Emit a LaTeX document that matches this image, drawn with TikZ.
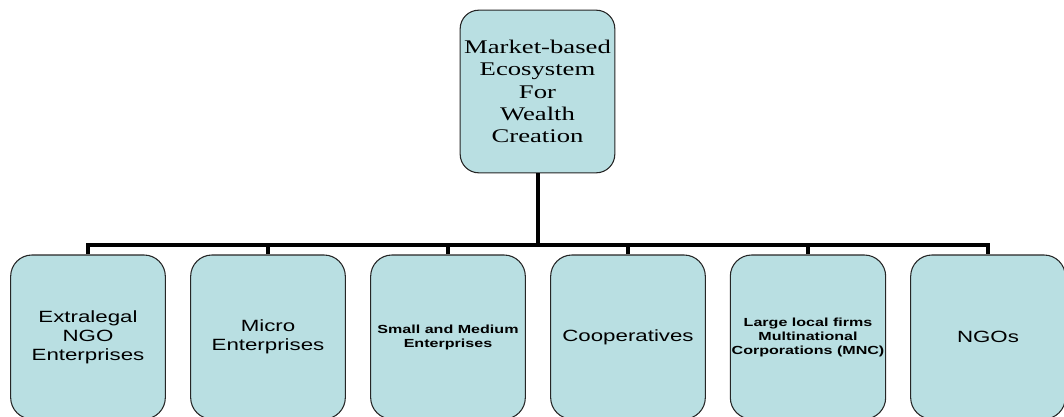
\documentclass[tikz,border=0pt]{standalone}
\usepackage{fontspec}
\newfontfamily\boxserif[FakeStretch=1.38]{Liberation Serif}
\newfontfamily\boxsans[FakeStretch=1.37]{Liberation Sans}
\usetikzlibrary{positioning}
\definecolor{boxfill}{RGB}{185,223,226}
\tikzset{
  orgbox/.style={draw=black!85, line width=0.8pt, fill=boxfill, rounded corners=16pt,
    minimum width=116pt, minimum height=123pt, inner sep=1pt, align=center},
  topbox/.style={orgbox, rounded corners=14pt, minimum height=122pt,
    font=\boxserif\fontsize{14.5}{16.8}\selectfont},
  unitbox/.style={orgbox, font=\boxsans\fontsize{12.2}{14.3}\selectfont},
  smallbold/.style={font=\boxsans\bfseries\fontsize{8.8}{10.5}\selectfont},
  tie/.style={line width=3pt}
}

\begin{document}
\begin{tikzpicture}[x=0.75pt, y=-0.75pt]
\useasboundingbox (0,0) rectangle (1064,417);
\clip (0,0) rectangle (1064,417);
% head box
    \node[topbox] (eco) at (537.5,91.5) {Market-based\\Ecosystem\\For\\Wealth\\Creation};

% unit boxes
    \node[unitbox] (extra) at (88,337) {Extralegal\\NGO\\Enterprises};
    \node[unitbox] (micro) at (268,337) {Micro\\Enterprises};
    \node[unitbox, smallbold] (sme) at (448,337) {Small and Medium\\Enterprises};
    \node[unitbox] (coop) at (628,337) {Cooperatives};
    \node[unitbox, smallbold] (large) at (808,337) {Large local firms\\Multinational\\Corporations (MNC)};
    \node[unitbox] (ngo) at (988,337) {NGOs};

% connectors
    \coordinate (bus) at (0,245);
    \draw[tie] (eco.south) -- (eco.south |- bus);
    \draw[tie] (extra.north) -- (extra.north |- bus) -| (ngo.north);
    \foreach \n in {micro,sme,coop,large}
      \draw[tie] (\n.north) -- (\n.north |- bus);
\end{tikzpicture}
\end{document}
